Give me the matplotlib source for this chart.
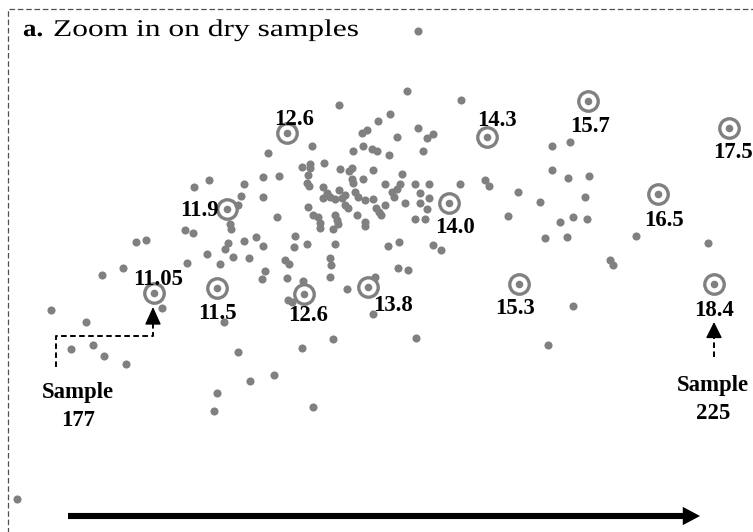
import matplotlib
matplotlib.use("Agg")
import matplotlib.pyplot as plt
from matplotlib import patheffects
from matplotlib.patches import FancyArrowPatch
from matplotlib.transforms import Affine2D

# ---- data: dry-sample scores (horizontal, vertical), y grows downward ----
dry_x = [418, 407, 461, 339, 390, 378, 367, 362, 418, 433, 427, 397, 312, 363,
         353, 372, 377, 389, 423, 268, 302, 310, 310, 324, 340, 349, 352, 373,
         402, 308, 263, 279, 209, 194, 244, 307, 309, 352, 353, 363, 385, 400,
         415, 429, 460, 323, 339, 327, 323, 330, 335, 342, 345, 355, 358, 365,
         373, 392, 397, 394, 420, 429, 241, 263, 238, 308, 345, 348, 376, 379,
         381, 385, 405, 420, 427, 313, 318, 320, 320, 335, 337, 338, 333, 357,
         365, 365, 415, 425, 277, 230, 231, 185, 193, 136, 146, 228, 225, 244,
         256, 263, 295, 294, 307, 335, 388, 399, 433, 441, 207, 233, 249, 187,
         220, 285, 289, 330, 331, 398, 408, 123, 102, 265, 262, 287, 303, 330,
         375, 288, 292, 347, 162, 51, 224, 86, 373, 333, 302, 238, 71, 93, 104,
         126, 274, 250, 217, 214, 313, 416, 573, 548, 610, 613, 17, 485, 489,
         552, 570, 552, 568, 589, 518, 585, 540, 508, 560, 573, 587, 545, 567,
         636, 708]
dry_y = [31, 91, 100, 105, 114, 121, 130, 133, 128, 134, 138, 137, 146, 146,
         151, 149, 151, 155, 151, 153, 167, 164, 168, 163, 169, 171, 168, 170,
         174, 175, 177, 176, 180, 187, 184, 183, 186, 179, 183, 179, 184, 184,
         184, 184, 184, 187, 190, 193, 198, 197, 199, 198, 195, 192, 197, 200,
         199, 192, 189, 197, 193, 198, 196, 197, 205, 207, 205, 208, 208, 212,
         215, 205, 203, 203, 209, 215, 217, 223, 228, 215, 220, 224, 229, 215,
         222, 226, 219, 219, 217, 224, 229, 230, 233, 242, 240, 243, 249, 241,
         237, 246, 236, 247, 244, 244, 246, 242, 245, 250, 254, 257, 258, 263,
         264, 260, 264, 258, 265, 268, 270, 268, 275, 271, 279, 278, 281, 277,
         277, 300, 302, 289, 308, 310, 322, 322, 314, 339, 348, 352, 349, 345,
         356, 364, 375, 381, 393, 411, 407, 338, 306, 345, 260, 265, 499, 180,
         186, 146, 142, 170, 178, 176, 192, 197, 202, 216, 222, 217, 219, 238,
         237, 236, 243]

# highlighted samples and their annotated values
mark_x = [154, 217, 227, 287, 304, 368, 449, 487, 519, 588, 658, 729, 714]
mark_y = [293, 288, 209, 133, 294, 287, 203, 137, 284, 101, 194, 128, 284]
mark_labels = ["11.05", "11.5", "11.9", "12.6", "12.6", "13.8", "14.0",
               "14.3", "15.3", "15.7", "16.5", "17.5", "18.4"]

# ---- layout (label centre offsets from each ring, in pixels) ----
label_offsets = [(4, -16), (0, 23), (-28, -1), (7, -16), (4, 19), (25, 16),
                 (6, 22), (10, -19), (-4, 22), (2, 23), (6, 24), (4, 22),
                 (0, 24)]

W, H = 753, 532
DOT = "#808080"
plt.rcParams["lines.scale_dashes"] = False


class HStretch(patheffects.AbstractPathEffect):
    """Draw glyph outlines widened horizontally from the text origin."""

    def __init__(self, sx):
        super().__init__()
        self._sx = sx

    def draw_path(self, renderer, gc, tpath, affine, rgbFace=None):
        renderer.draw_path(gc, tpath, Affine2D().scale(self._sx, 1.0) + affine,
                           rgbFace)


fig = plt.figure(figsize=(W / 100, H / 100), dpi=100)
ax = fig.add_axes([0, 0, 1, 1])
ax.set_xlim(0, W)
ax.set_ylim(H, 0)
ax.axis("off")

serif = "Liberation Serif"

# dashed panel frame (continues past the right and bottom edges)
ax.plot([8.5, 8.5, W + 10], [H + 10, 9, 9], color="#505050", lw=0.9,
        dashes=(4, 2), solid_capstyle="butt")

# all dry samples
ax.scatter(dry_x, dry_y, s=34, color=DOT, linewidths=0, zorder=3)

# highlighted samples: ring + dot
ax.plot(mark_x, mark_y, ls="none", marker="o", ms=14, mfc="none", mec=DOT,
        mew=2.4, zorder=3)
ax.scatter(mark_x, mark_y, s=30, color=DOT, linewidths=0, zorder=4)

for x, y, lab, (dx, dy) in zip(mark_x, mark_y, mark_labels, label_offsets):
    ax.text(x + dx, y + dy + 7.7, lab, ha="center", va="baseline",
            family=serif, fontweight="bold", fontsize=16.4, color="black",
            zorder=5)

# title
ax.text(23, 36, "a.", ha="left", va="baseline", family=serif,
        fontweight="bold", fontsize=17.3,
        path_effects=[HStretch(1.12)])
ax.text(53, 36, "Zoom in on dry samples", ha="left", va="baseline",
        family=serif, fontsize=17.3, path_effects=[HStretch(1.31)])

# Sample 177 pointer
ax.plot([56, 56, 153, 153], [367, 336, 336, 321], color="black", lw=1.4,
        dashes=(4, 2.5))
ax.annotate("", xy=(153, 307), xytext=(153, 322),
            arrowprops=dict(arrowstyle="-|>,head_length=1.1,head_width=0.5",
                            color="black", lw=1.0, shrinkA=0, shrinkB=0))
ax.text(78, 426, "Sample\n177", ha="center", va="baseline", family=serif,
        fontweight="bold", fontsize=16.4, linespacing=1.43)

# Sample 225 pointer
ax.plot([714, 714], [357, 335], color="black", lw=1.4, dashes=(4, 2.5))
ax.annotate("", xy=(714, 322), xytext=(714, 336),
            arrowprops=dict(arrowstyle="-|>,head_length=1.0,head_width=0.5",
                            color="black", lw=1.0, shrinkA=0, shrinkB=0))
ax.text(713, 419, "Sample\n225", ha="center", va="baseline", family=serif,
        fontweight="bold", fontsize=16.4, linespacing=1.43)

# direction arrow along the bottom
arrow = FancyArrowPatch((68, 516), (700, 516),
                        arrowstyle="simple,head_length=0.62,head_width=0.66,tail_width=0.22",
                        mutation_scale=20, color="black", lw=0,
                        shrinkA=0, shrinkB=0, zorder=5)
ax.add_patch(arrow)

fig.savefig("out.png", dpi=100)
